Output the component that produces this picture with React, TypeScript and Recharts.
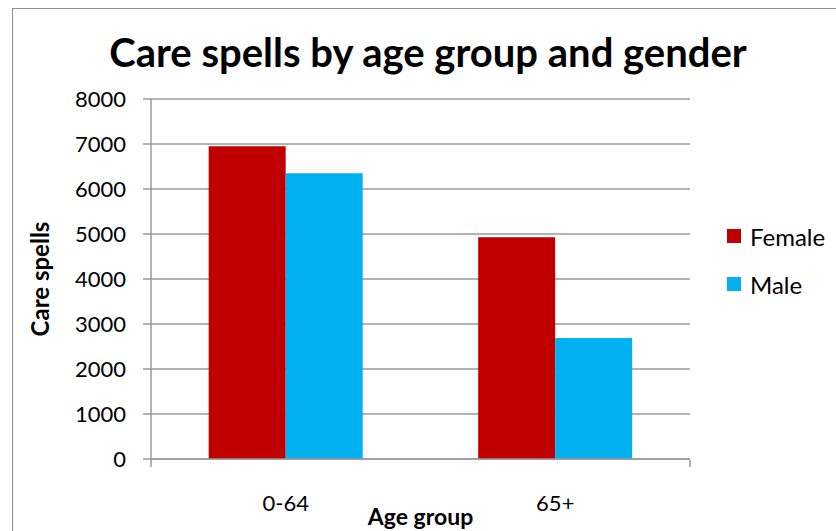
import React from 'react';
import { BarChart, Bar, XAxis, YAxis, CartesianGrid, Legend } from 'recharts';

const ageGroups = ['0-64', '65+'];
const female = [6950, 4930];
const male = [6350, 2690];
const yTicks = [0, 1000, 2000, 3000, 4000, 5000, 6000, 7000, 8000];
const edgeTicks = [0, 1, 2];

const data = ageGroups.map((g, i) => ({ group: g, Female: female[i], Male: male[i] }));

const FONT = 'Lato, "Open Sans", sans-serif';

const legendItems = [
  { name: 'Female', color: '#C00000' },
  { name: 'Male', color: '#00B0F0' },
];

function ChartLegend() {
  return (
    <div style={{ fontFamily: FONT, fontSize: 24, color: '#000' }}>
      {legendItems.map((it) => (
        <div key={it.name} style={{ display: 'flex', alignItems: 'center', height: 28, marginBottom: 20 }}>
          <span style={{ width: 14, height: 14, background: it.color, display: 'inline-block', marginRight: 9 }} />
          <span>{it.name}</span>
        </div>
      ))}
    </div>
  );
}

export default function App() {
  return (
    <div
      style={{
        position: 'absolute',
        left: 0,
        top: 0,
        width: 836,
        height: 531,
        overflow: 'hidden',
        background: '#fff',
      }}
    >
      <div
        style={{
          position: 'absolute',
          left: 12,
          top: 8,
          width: 900,
          height: 600,
          border: '1.5px solid #8c8c8c',
        }}
      />
      <div
        style={{
          position: 'absolute',
          left: 0,
          top: 28,
          width: 856,
          textAlign: 'center',
          fontFamily: FONT,
          fontWeight: 700,
          fontSize: 40,
          color: '#000',
        }}
      >
        Care spells by age group and gender
      </div>
      <BarChart
        width={836}
        height={531}
        data={data}
        margin={{ top: 99, right: 146, bottom: 70, left: 0 }}
        barCategoryGap="21.4%"
        barGap={0}
        style={{ position: 'absolute', left: 0, top: 0, fontFamily: FONT }}
      >
        <CartesianGrid vertical={false} stroke="#9a9a9a" strokeWidth={1.5} />
        <XAxis
          dataKey="group"
          height={1}
          tickLine={false}
          tickSize={0}
          tickMargin={36}
          axisLine={{ stroke: '#9a9a9a', strokeWidth: 1.5 }}
          tick={{ fontSize: 22, fill: '#000' }}
          label={{ value: 'Age group', position: 'center', dy: 57, fontSize: 23, fontWeight: 700, fill: '#000' }}
        />
        <XAxis
          xAxisId="edge"
          type="number"
          scale="linear"
          domain={[0, 2]}
          allowDataOverflow
          ticks={edgeTicks}
          interval={0}
          tick={() => <g />}
          axisLine={false}
          tickSize={7}
          tickLine={{ stroke: '#9a9a9a', strokeWidth: 1.5 }}
          height={1}
        />
        <YAxis
          width={151}
          domain={[0, 8000]}
          ticks={yTicks}
          tickSize={8}
          tickMargin={17}
          axisLine={{ stroke: '#9a9a9a', strokeWidth: 1.5 }}
          tickLine={{ stroke: '#9a9a9a', strokeWidth: 1.5 }}
          tick={{ fontSize: 22, fill: '#000' }}
          label={{ value: 'Care spells', angle: -90, position: 'center', dx: -35, fontSize: 24, fontWeight: 700, fill: '#000' }}
        />
        <Legend
          layout="vertical"
          align="center"
          verticalAlign="middle"
          content={<ChartLegend />}
          wrapperStyle={{ position: 'absolute', left: 727, top: 222, width: 110 }}
        />
        <Bar dataKey="Female" fill="#C00000" isAnimationActive={false} />
        <Bar dataKey="Male" fill="#00B0F0" isAnimationActive={false} />
      </BarChart>
    </div>
  );
}
